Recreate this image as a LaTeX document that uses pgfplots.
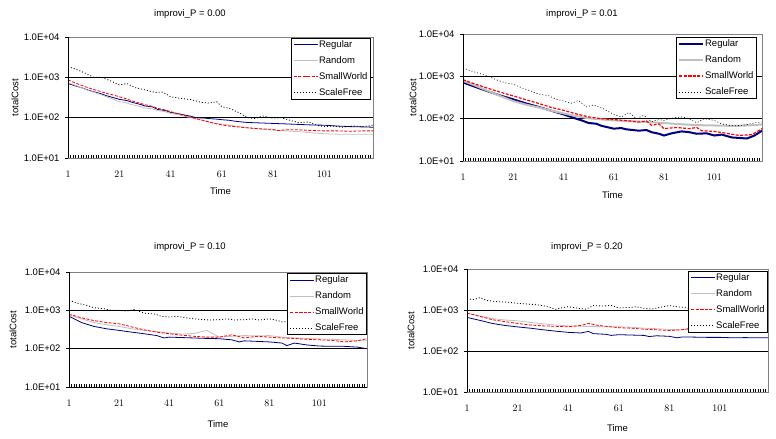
\documentclass[border=0pt]{standalone}
\usepackage{pgfplots}
\pgfplotsset{compat=1.18}
\usepackage{fontspec}
\setmainfont{Liberation Sans}

\definecolor{xlnavy}{RGB}{0,0,128}
\definecolor{xlgray}{RGB}{192,192,192}
\definecolor{xlframe}{RGB}{128,128,128}

\newcommand\fnt{\fontsize{9.5bp}{11bp}\selectfont}

\pgfplotsset{
  every axis/.append style={
    scale only axis,
    xmin=1, xmax=120, ymin=10, ymax=10000,
    ytick={10,100,1000,10000},
    yticklabels={1.0E+01,1.0E+02,1.0E+03,1.0E+04},
    xtick={1,21,...,101}, minor xtick={1,...,120},
    xtick pos=bottom, ytick pos=left,
    tick align=inside, major tick length=3bp, minor tick length=3bp,
    tick style={black, line width=0.6bp},
    ytick style={xshift=-3bp}, yminorticks=false,
    xticklabel style={anchor=center, yshift=-16bp},
    yticklabel style={xshift=-5bp},
    ymajorgrids, major grid style={black, line width=0.8bp},
    axis line style={xlframe, line width=0.8bp},
    xlabel={Time}, ylabel={totalCost},
    legend cell align=left,
    legend image post style={xscale=1.4},
  },
  every axis legend/.append style={anchor=north east, draw=black, line width=0.8bp,
      fill=white, inner xsep=2bp, inner ysep=1bp, row sep=5bp, font=\fnt,
      nodes={inner sep=1bp, text height=7bp, text depth=2bp}},
}

\begin{document}
\begin{tikzpicture}[font=\fnt]
\path[use as bounding box] (0,0) rectangle (776bp,439bp);

% improvi_P = 0.00
\node at (190bp,425bp) {improvi\_P = 0.00};
\begin{semilogyaxis}[at={(68bp,281bp)}, anchor=south west,
  width=305bp, height=121bp,
  xlabel style={at={([yshift=-33bp]axis description cs:0.5,0)}, anchor=center},
  ylabel style={at={([xshift=-53bp]axis description cs:0,0.5)}, anchor=center},
  legend style={at={(rel axis cs:0.993,0.992)}}]
\addplot[xlnavy, line width=0.8bp] coordinates {(1,700)(4,610)(6,560)(9,480)(11,440)(14,390)(16,350)(19,310)(21,285)(24,265)(26,240)(29,215)(31,195)(34,185)(36,160)(39,150)(41,135)(44,125)(46,118)(49,108)(51,100)(54,98)(56,95)(59,92)(61,89)(64,86)(66,82)(69,78)(71,76)(76,74)(81,72)(86,70)(91,68)(96,66)(101,65)(106,62)(111,60)(116,59)(120,58)};
\addplot[xlgray, line width=0.8bp] coordinates {(1,740)(4,630)(6,560)(9,470)(11,430)(14,370)(16,330)(19,280)(21,250)(24,230)(26,210)(29,190)(31,175)(34,165)(36,150)(39,140)(41,128)(44,118)(46,110)(49,100)(51,92)(54,84)(56,78)(59,72)(61,69)(64,65)(66,62)(71,56)(76,52)(81,49)(86,47)(91,45)(96,42)(101,40)(106,39)(111,39)(116,39)(120,39)};
\addplot[red, line width=0.8bp, dash pattern=on 3bp off 1.5bp] coordinates {(1,860)(4,720)(6,640)(9,550)(11,500)(14,440)(16,400)(19,360)(21,330)(24,290)(26,260)(29,230)(31,210)(34,190)(36,170)(39,155)(41,141)(44,125)(46,115)(49,102)(51,95)(54,85)(56,78)(59,70)(61,66)(64,62)(66,60)(71,56)(76,53)(81,51)(83,48)(86,50)(91,50)(96,48)(101,47)(106,47)(111,46)(116,47)(120,47)};
\addplot[black, line width=0.8bp, dash pattern=on 1bp off 2bp] coordinates {(1,1830)(4,1600)(8,1250)(11,1000)(14,1000)(17,850)(21,650)(24,700)(27,560)(31,490)(35,420)(38,430)(41,330)(45,300)(49,280)(53,240)(56,230)(59,250)(61,188)(64,170)(68,130)(71,100)(74,95)(77,110)(81,97)(84,100)(88,85)(91,75)(95,78)(98,65)(101,60)(104,62)(108,58)(112,62)(116,60)(120,65)};
\legend{Regular,Random,SmallWorld,ScaleFree}
\draw[black, line width=0.8bp] (rel axis cs:0,1) -- (rel axis cs:0,0) -- (rel axis cs:1,0);
\end{semilogyaxis}

% improvi_P = 0.01
\node at (582bp,425bp) {improvi\_P = 0.01};
\begin{semilogyaxis}[at={(463bp,278bp)}, anchor=south west,
  width=299bp, height=127bp,
  xlabel style={at={([yshift=-34bp]axis description cs:0.5,0)}, anchor=center},
  ylabel style={at={([xshift=-50bp]axis description cs:0,0.5)}, anchor=center},
  legend style={at={(rel axis cs:0.983,0.976)}}]
\addplot[xlnavy, line width=2bp] coordinates {(1,718)(6,560)(11,440)(16,350)(21,286)(26,230)(31,190)(36,155)(41,126)(46,100)(48,92)(51,79)(54,76)(56,68)(61,58)(64,60)(66,56)(71,52)(74,54)(76,48)(79,44)(81,40)(84,45)(88,50)(91,48)(94,44)(98,45)(101,40)(104,42)(108,36)(111,35)(114,34)(117,40)(120,52)};
\addplot[xlgray, line width=2bp] coordinates {(1,787)(6,600)(11,450)(16,340)(21,260)(26,215)(31,185)(36,155)(41,133)(46,115)(51,102)(56,96)(61,91)(66,88)(71,86)(76,82)(81,79)(86,75)(91,72)(96,70)(101,69)(106,68)(111,68)(116,70)(120,73)};
\addplot[red, line width=1.2bp, dash pattern=on 3bp off 1.5bp] coordinates {(1,830)(6,650)(11,520)(16,420)(21,345)(26,280)(31,230)(36,185)(41,158)(46,130)(51,110)(56,100)(61,95)(66,90)(71,83)(74,88)(76,70)(79,75)(81,58)(86,62)(91,58)(94,62)(96,52)(101,50)(106,45)(111,40)(116,42)(120,58)};
\addplot[black, line width=0.6bp, dash pattern=on 1bp off 2bp] coordinates {(1,1580)(4,1350)(8,1150)(11,1000)(15,800)(18,700)(21,650)(25,520)(28,450)(31,380)(35,350)(38,290)(41,260)(44,230)(47,270)(50,190)(53,210)(57,170)(61,126)(64,110)(67,140)(70,100)(73,120)(76,85)(79,95)(81,91)(85,105)(88,110)(91,100)(94,80)(97,100)(101,91)(104,75)(107,70)(111,69)(114,72)(117,80)(120,83)};
\legend{Regular,Random,SmallWorld,ScaleFree}
\draw[black, line width=0.8bp] (rel axis cs:0,1) -- (rel axis cs:0,0) -- (rel axis cs:1,0);
\end{semilogyaxis}

% improvi_P = 0.10
\node at (190bp,192bp) {improvi\_P = 0.10};
\begin{semilogyaxis}[at={(69bp,52bp)}, anchor=south west,
  width=298bp, height=115bp,
  xlabel style={at={([yshift=-37bp]axis description cs:0.5,0)}, anchor=center},
  ylabel style={at={([xshift=-56bp]axis description cs:0,0.5)}, anchor=center},
  legend style={at={(rel axis cs:1,0.991)}}]
\addplot[xlnavy, line width=0.8bp] coordinates {(1,700)(6,480)(11,380)(16,330)(21,300)(26,270)(31,245)(36,220)(39,190)(41,200)(46,195)(51,190)(56,185)(61,182)(66,170)(69,150)(71,160)(76,155)(81,150)(86,140)(88,120)(91,140)(96,125)(101,117)(106,115)(111,115)(116,110)(120,100)};
\addplot[xlgray, line width=0.8bp] coordinates {(1,770)(6,600)(11,480)(16,420)(21,380)(26,330)(31,300)(36,280)(41,256)(46,240)(51,250)(56,300)(61,200)(66,210)(71,220)(76,215)(81,220)(86,200)(91,190)(96,185)(101,180)(106,175)(111,170)(116,165)(120,165)};
\addplot[red, line width=0.8bp, dash pattern=on 3bp off 1.5bp] coordinates {(1,790)(6,640)(11,540)(16,480)(21,445)(26,370)(31,310)(36,270)(41,245)(46,225)(51,210)(56,200)(61,200)(66,230)(71,190)(76,210)(81,200)(86,190)(91,185)(96,175)(101,170)(106,165)(111,150)(116,160)(120,182)};
\addplot[black, line width=0.8bp, dash pattern=on 1bp off 2bp] coordinates {(1,1820)(5,1500)(8,1350)(11,1170)(15,1100)(18,1000)(21,1000)(24,950)(27,1050)(31,850)(35,800)(38,700)(41,670)(44,700)(47,650)(51,600)(54,580)(57,560)(61,570)(64,600)(67,560)(71,570)(74,600)(77,560)(81,600)(84,550)(86,500)(90,520)(95,500)(100,510)(105,490)(110,500)(115,480)(120,500)};
\legend{Regular,Random,SmallWorld,ScaleFree}
\draw[black, line width=0.8bp] (rel axis cs:0,1) -- (rel axis cs:0,0) -- (rel axis cs:1,0);
\end{semilogyaxis}

% improvi_P = 0.20
\node at (587bp,192bp) {improvi\_P = 0.20};
\begin{semilogyaxis}[at={(467bp,47bp)}, anchor=south west,
  width=301bp, height=123bp,
  xlabel style={at={([yshift=-36bp]axis description cs:0.5,0)}, anchor=center},
  ylabel style={at={([xshift=-56bp]axis description cs:0,0.5)}, anchor=center},
  legend style={at={(rel axis cs:1,0.984)}}]
\addplot[xlnavy, line width=0.8bp] coordinates {(1,660)(6,560)(11,470)(16,420)(21,387)(26,360)(31,330)(36,305)(41,285)(46,275)(49,300)(51,265)(56,255)(58,240)(61,250)(66,245)(71,240)(73,225)(76,235)(81,228)(84,210)(86,220)(91,218)(96,215)(101,215)(106,210)(111,212)(116,210)(120,210)};
\addplot[xlgray, line width=0.8bp] coordinates {(1,840)(6,720)(11,620)(16,570)(21,545)(26,500)(31,460)(36,430)(41,410)(46,400)(51,395)(56,390)(61,390)(66,380)(71,360)(76,350)(81,335)(86,330)(91,325)(96,320)(101,320)(106,315)(111,310)(116,310)(120,310)};
\addplot[red, line width=0.8bp, dash pattern=on 3bp off 1.5bp] coordinates {(1,840)(6,700)(11,580)(16,520)(21,470)(26,430)(31,410)(36,400)(41,390)(46,420)(49,470)(53,420)(56,400)(61,370)(66,360)(71,340)(76,330)(81,315)(86,330)(91,370)(96,350)(101,340)(106,330)(111,330)(116,320)(120,320)};
\addplot[black, line width=0.8bp, dash pattern=on 1bp off 2bp] coordinates {(1,1870)(4,1800)(6,2000)(9,1700)(13,1600)(17,1550)(21,1460)(25,1400)(28,1350)(31,1280)(34,1150)(36,1040)(39,1150)(41,1200)(45,1100)(48,1050)(51,1280)(55,1250)(58,1300)(61,1120)(65,1150)(68,1200)(71,1100)(74,1050)(77,1150)(81,1280)(84,1200)(87,1150)(91,1000)(95,1050)(100,1100)(105,1050)(110,1100)(115,1050)(120,1050)};
\legend{Regular,Random,SmallWorld,ScaleFree}
\draw[black, line width=0.8bp] (rel axis cs:0,1) -- (rel axis cs:0,0) -- (rel axis cs:1,0);
\end{semilogyaxis}
\end{tikzpicture}
\end{document}
